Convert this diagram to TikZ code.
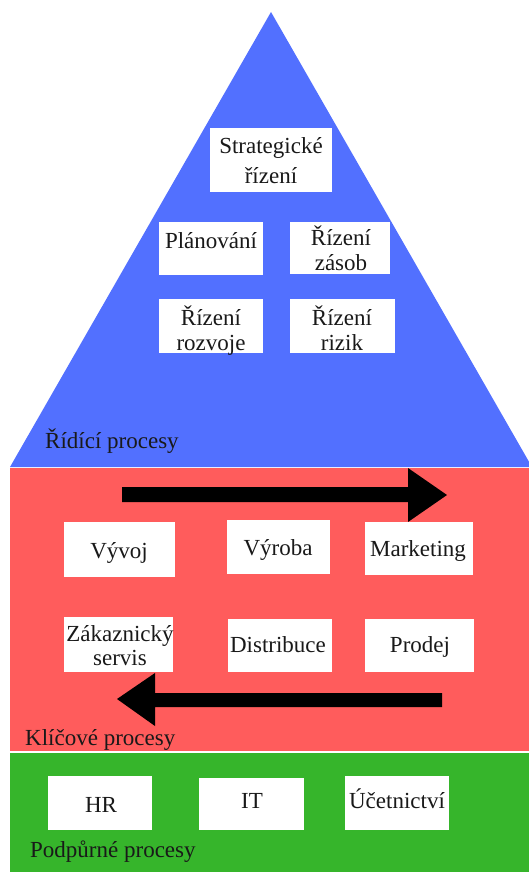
\documentclass[tikz,border=0pt]{standalone}
\usepackage{fontspec}
\setmainfont{Liberation Serif}
\begin{document}
\begin{tikzpicture}[x=1pt,y=-1pt,
  lbl/.style={font=\fontsize{23}{26}\selectfont, text=black!90, inner sep=0pt, align=center, anchor=base},
  zonelbl/.style={font=\fontsize{23}{26}\selectfont, text=black!90, inner sep=0pt, anchor=base west},
  boxnode/.style={fill=white, draw=none, inner sep=0pt, anchor=north west},
  bigarrow/.style={fill=black}
]
\definecolor{ctrlblue}{RGB}{82,112,255}
\definecolor{corered}{RGB}{255,92,92}
\definecolor{suppgreen}{RGB}{54,181,43}
\useasboundingbox (0,0) rectangle (529,872);

% zones
\fill[ctrlblue] (271,12) -- (532,467) -- (10,467) -- cycle;
\fill[corered] (10,468) rectangle (529,751);
\fill[suppgreen] (10,753) rectangle (529,872);

% management boxes
\node[boxnode, minimum width=122, minimum height=64] (strat) at (210,128) {};
\node[boxnode, minimum width=104, minimum height=53] (plan) at (159,222) {};
\node[boxnode, minimum width=100, minimum height=52] (zasob) at (290,222) {};
\node[boxnode, minimum width=104, minimum height=54] (rozv) at (159,299) {};
\node[boxnode, minimum width=105, minimum height=54] (rizik) at (290,299) {};

% labels (anchor = baseline of the last line)
\node[lbl, font=\fontsize{23}{30}\selectfont] (tstrat) at (271,183) {Strategické\\řízení};
\node[lbl] (tplan) at (211,248) {Plánování};
\node[lbl, font=\fontsize{23}{25}\selectfont] (tzasob) at (341,270) {Řízení\\zásob};
\node[lbl, font=\fontsize{23}{25}\selectfont] (trozv) at (211,350) {Řízení\\rozvoje};
\node[lbl, font=\fontsize{23}{25}\selectfont] (trizik) at (342,350) {Řízení\\rizik};
\node[zonelbl] (zctrl) at (45,448) {Řídící procesy};

% core process arrows
\fill[bigarrow] (122,487) -- (408,487) -- (408,468) -- (447,495) -- (408,522)
  -- (408,502) -- (122,502) -- cycle;
\fill[bigarrow] (442,693) -- (155,693) -- (155,673) -- (117,699) -- (155,726)
  -- (155,707) -- (442,707) -- cycle;

% core boxes
\node[boxnode, minimum width=111, minimum height=55] (vyvoj) at (64,522) {};
\node[boxnode, minimum width=103, minimum height=54] (vyroba) at (227,520) {};
\node[boxnode, minimum width=108, minimum height=53] (mark) at (365,522) {};
\node[boxnode, minimum width=109, minimum height=55] (zak) at (64,617) {};
\node[boxnode, minimum width=104, minimum height=53] (distr) at (228,619) {};
\node[boxnode, minimum width=109, minimum height=53] (prod) at (365,619) {};

\node[lbl] (tvyvoj) at (119,558) {Vývoj};
\node[lbl] (tvyroba) at (278,555) {Výroba};
\node[lbl] (tmark) at (418,556) {Marketing};
\node[lbl, font=\fontsize{23}{24}\selectfont] (tzak) at (120,665) {Zákaznický\\servis};
\node[lbl] (tdistr) at (278,652) {Distribuce};
\node[lbl] (tprod) at (420,652) {Prodej};
\node[zonelbl] (zcore) at (25,745) {Klíčové procesy};

% support boxes
\node[boxnode, minimum width=104, minimum height=54] (hr) at (48,776) {};
\node[boxnode, minimum width=105, minimum height=52] (it) at (199,778) {};
\node[boxnode, minimum width=104, minimum height=54] (ucet) at (345,776) {};

\node[lbl] (thr) at (101,812) {HR};
\node[lbl] (tit) at (252,808) {IT};
\node[lbl] (tucet) at (397,808) {Účetnictví};
\node[zonelbl] (zsupp) at (30,857) {Podpůrné procesy};
\end{tikzpicture}
\end{document}
